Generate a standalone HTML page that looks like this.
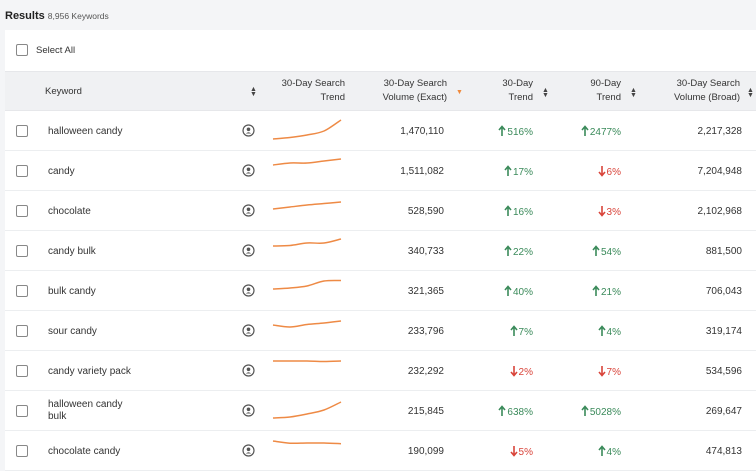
<!DOCTYPE html>
<html><head><meta charset="utf-8"><style>
*{box-sizing:border-box;margin:0;padding:0}
body{width:756px;height:470px;overflow:hidden;background:#f4f5f7;font-family:"Liberation Sans",sans-serif;color:#333;position:relative}
.abs{position:absolute}
.panel{position:absolute;left:5px;top:30px;width:751px;height:440px;background:#fff}
.cb{position:absolute;width:12px;height:12px;border:1px solid #888;border-radius:2px;background:#fff}
.hdr{position:absolute;left:5px;top:71px;width:751px;height:40px;background:#f0f1f3;border-top:1px solid #e6e7ea;border-bottom:1px solid #e6e7ea}
.ht{position:absolute;font-size:9.5px;line-height:14px;text-align:right;color:#333}
.row{position:absolute;left:5px;width:751px;height:40px;border-bottom:1.5px solid #eceef0}
.t{position:absolute;font-size:10px;line-height:12px;color:#333}
.r{text-align:right}
.sort{position:absolute;font-size:7px;line-height:5px;color:#444}
</style></head><body>
<div class="abs" style="left:5px;top:10px;font-size:11px;font-weight:bold;color:#222">Results <span style="font-weight:normal;font-size:8.5px;color:#555">8,956 Keywords</span></div>
<div class="panel"></div>
<div class="cb" style="left:16px;top:44px"></div>
<div class="t" style="left:36px;top:45px;font-size:9.5px">Select All</div>
<div class="hdr">
 <div class="ht" style="left:40px;top:13px;text-align:left">Keyword</div>
 <div class="sort" style="left:245px;top:15px">▲<br>▼</div>
 <div class="ht" style="right:411px;top:5px">30-Day Search<br>Trend</div>
 <div class="ht" style="right:309px;top:5px">30-Day Search<br>Volume (Exact)</div>
 <div class="sort" style="left:451px;top:18px;color:#f08a3c">▼</div>
 <div class="ht" style="right:223px;top:5px">30-Day<br>Trend</div>
 <div class="sort" style="left:537px;top:16px">▲<br>▼</div>
 <div class="ht" style="right:135px;top:5px">90-Day<br>Trend</div>
 <div class="sort" style="left:625px;top:16px">▲<br>▼</div>
 <div class="ht" style="right:16px;top:5px">30-Day Search<br>Volume (Broad)</div>
 <div class="sort" style="left:742px;top:16px">▲<br>▼</div>
</div>
<div id="rows"></div>
<script>
const keywords=["halloween candy","candy","chocolate","candy bulk","bulk candy","sour candy","candy variety pack","halloween candy<br>bulk","chocolate candy"];
const exact=["1,470,110","1,511,082","528,590","340,733","321,365","233,796","232,292","215,845","190,099"];
const trend30=[516,17,16,22,40,7,-2,638,-5];
const trend90=[2477,-6,-3,54,21,4,-7,5028,4];
const broad=["2,217,328","7,204,948","2,102,968","881,500","706,043","319,174","534,596","269,647","474,813"];
const spark=[[1,2.5,5,9,20],[15,17,17,19,21],[11,13,15,16.5,18],[14,14.5,17,17,21],[11,12,14,19,19.5],[15,13,15.5,17,19],[19,19,19,18.5,19],[2,3,6,10,18],[19,16.8,17,17,16.3]];
const rows=document.getElementById('rows');
function sx(i,n){return 2+i*(68/(n-1));}
function sy(v){return 29-v;}
function arrow(v){const c=v>=0?'#3a8a5a':'#d9443a';const d=v>=0?'M4 11V2M1 5L4 1.5L7 5':'M4 1V10M1 7L4 10.5L7 7';return '<svg width="8" height="12" style="vertical-align:-2px;margin-right:1px"><path d="'+d+'" stroke="'+c+'" stroke-width="1.6" fill="none"/></svg><span style="color:'+c+'">'+Math.abs(v)+'%</span>';}
keywords.forEach((k,i)=>{
 const top=111+i*40;
 const r=document.createElement('div');r.className='row';r.style.top=top+'px';
 
 
 const p=spark[i].map((v,j)=>[sx(j,spark[i].length),sy(v)]);
 let d='M'+p[0][0]+' '+p[0][1];
 for(let j=0;j<p.length-1;j++){
  const p0=p[Math.max(0,j-1)],p1=p[j],p2=p[j+1],p3=p[Math.min(p.length-1,j+2)];
  const c1=[p1[0]+(p2[0]-p0[0])/6,p1[1]+(p2[1]-p0[1])/6];
  const c2=[p2[0]-(p3[0]-p1[0])/6,p2[1]-(p3[1]-p1[1])/6];
  d+=' C'+c1[0]+' '+c1[1]+' '+c2[0]+' '+c2[1]+' '+p2[0]+' '+p2[1];
 }
 const two=k.includes('<br>');
 r.innerHTML='<div class="cb" style="left:11px;top:14px"></div>'+
 '<div class="t" style="left:43px;top:'+(two?8:15)+'px">'+k+'</div>'+
 '<svg class="abs" style="left:237px;top:13px" width="13" height="13"><circle cx="6.5" cy="6.5" r="5.5" fill="none" stroke="#555" stroke-width="1.2"/><circle cx="6.5" cy="5.3" r="1.8" fill="#555"/><path d="M3.8 9.5Q6.5 7 9.2 9.5" fill="#555"/></svg>'+
 '<svg class="abs" style="left:266px;top:0" width="74" height="40"><path d="'+d+'" fill="none" stroke="#ee8a45" stroke-width="1.5"/></svg>'+
 '<div class="t r" style="right:312px;top:15px">'+exact[i]+'</div>'+
 '<div class="t r" style="right:223px;top:14px">'+arrow(trend30[i])+'</div>'+
 '<div class="t r" style="right:135px;top:14px">'+arrow(trend90[i])+'</div>'+
 '<div class="t r" style="right:14px;top:15px">'+broad[i]+'</div>';
 rows.appendChild(r);
});
</script>
</body></html>
